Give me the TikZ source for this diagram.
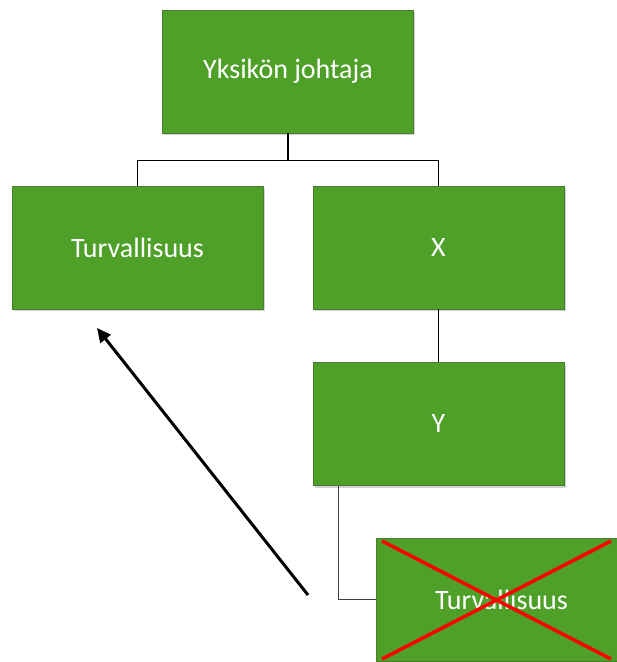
\documentclass[tikz,border=0pt]{standalone}
\usepackage{fontspec}
\setmainfont{Carlito}
\usetikzlibrary{arrows.meta,shadows}
\definecolor{boxgreen}{RGB}{78,160,40}
\definecolor{boxedge}{RGB}{70,125,45}
\tikzset{
  orgbox/.style={rectangle, fill=boxgreen, draw=boxedge, line width=0.6pt,
    minimum width=251pt, minimum height=123pt, inner sep=0pt,
    text=white, font=\fontsize{28}{32}\selectfont,
    drop shadow={shadow xshift=1.5pt, shadow yshift=-2pt, opacity=0.35}},
  orgline/.style={draw=black, line width=1.4pt},
  greyline/.style={draw=black!75, line width=1.4pt},
  bigarrow/.style={draw=black, line width=3pt, -{Triangle[length=14pt,width=13pt]}},
  redcross/.style={draw=red, line width=3.5pt}
}
\begin{document}
\begin{tikzpicture}[x=1pt,y=-1pt]
\useasboundingbox (0,0) rectangle (617,662);
\clip (0,0) rectangle (617,662);
\fill[white] (0,0) rectangle (617,662);
\node[orgbox] (top) at (288,71.5) {Yksikön johtaja};
\node[orgbox] (left) at (137.5,247.5) {Turvallisuus};
\node[orgbox] (xb) at (438.5,247.5) {X};
\node[orgbox] (yb) at (438.5,424) {Y};
\node[orgbox] (cr) at (501.5,599.5) {Turvallisuus};
\coordinate (c1) at (382,541);
\coordinate (c2) at (611,659);
\coordinate (c3) at (611,541);
\coordinate (c4) at (382,659);
\draw[redcross] (c1) -- (c2);
\draw[redcross] (c3) -- (c4);
\draw[orgline] (top.south) -- ++(0,27) -| (left.north);
\draw[orgline] (top.south) -- ++(0,27) -| (xb.north);
\draw[orgline] (xb.south) -- (yb.north);
\coordinate (ys) at ([xshift=26pt]yb.south west);
\draw[greyline] (ys) |- (cr.west);
\coordinate (as) at (308,595);
\coordinate (ae) at (97,328);
\draw[bigarrow] (as) -- (ae);
\end{tikzpicture}
\end{document}
